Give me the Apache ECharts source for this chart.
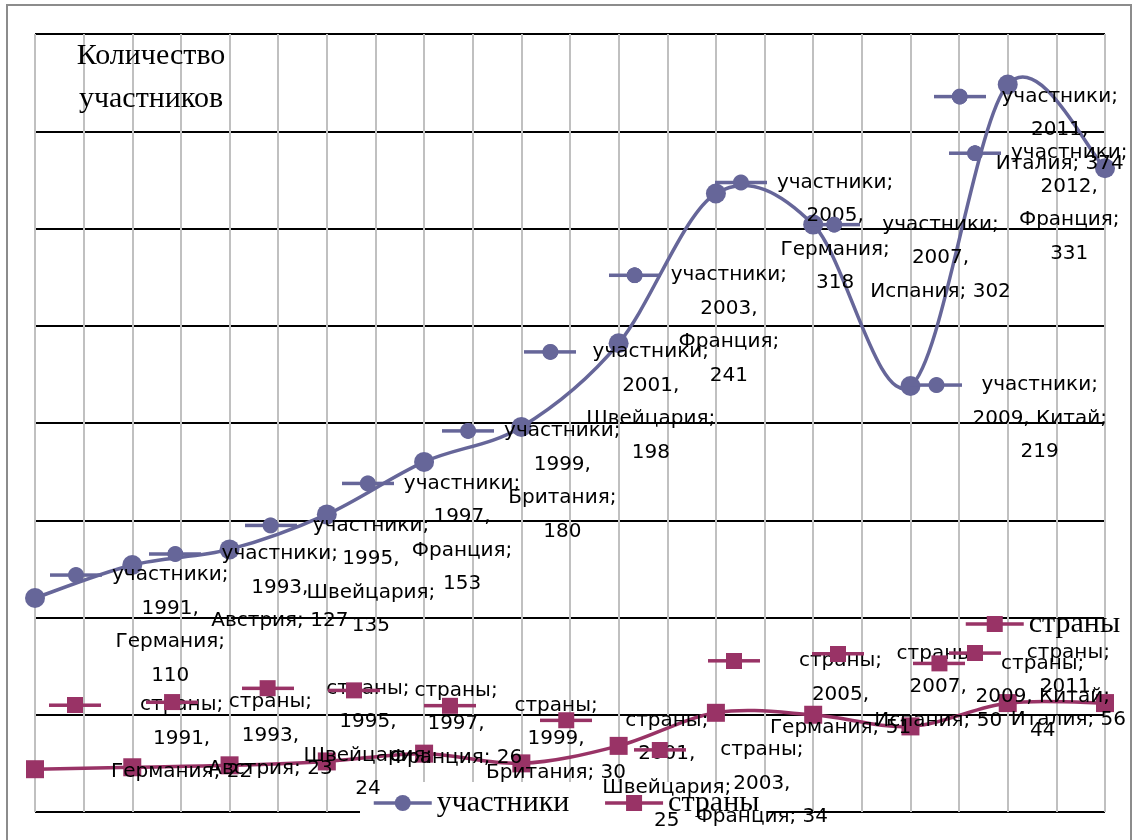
<!DOCTYPE html>
<html><head><meta charset="utf-8">
<script src="https://cdn.jsdelivr.net/npm/echarts@6/dist/echarts.min.js"></script>
<style>html,body{margin:0;padding:0;background:#fff}#c{width:1134px;height:840px}</style>
</head><body><div id="c"></div>
<script>
// ---- data ----
const years = ['1991','1993','1995','1997','1999','2001','2003','2005','2007','2009','2011','2012'];
const countries = ['Германия','Австрия','Швейцария','Франция','Британия','Швейцария','Франция','Германия','Испания','Китай','Италия','Франция'];
const participants = [110,127,135,153,180,198,241,318,302,219,374,331];
const nations = [22,23,24,26,30,25,34,51,50,44,56,56];
const seriesNames = ['участники','страны'];
const titleLines = ['Количество','участников'];
const yMin = 0, yMax = 400, yStep = 50;

// ---- label layout (offset of the label's legend key from its point, and line wrapping) ----
const keyOffA = [[41,-23],[43,-11],[41,-24],[41,-31],[44,-31],[29,-75],[16,-68],[25,-11],[21,0],[26,-1],[-48,12],[-130,-15]];
const wrapA = [['\n','\n'],['\n',' '],['\n','\n'],['\n','\n'],['\n','\n'],['\n','\n'],['\n','\n'],['\n','\n'],['\n',' '],[' ','\n'],['\n',' '],['\n','\n']];
const keyOffB = [[40,-64],[40,-65],[38,-77],[27,-71],[26,-48],[45,-43],[41,4],[18,-52],[25,-61],[29,-63],[-33,-50],null];
const wrapB = [['\n',' '],['\n',' '],['\n','\n'],['\n',' '],['\n',' '],['\n','\n'],['\n',' '],['\n',' '],['\n',' '],[' ','\n'],['\n',' '],null];

const COLORS = ['#666699', '#993366'];
const LFONT = 'DejaVu Sans', LSIZE = 20, LH = 33.5, KEYW = 52, GK = 10;
const SERIF = 'Liberation Serif';
const LINEW = 3.5;

const categories = years.map((y, i) => y + ', ' + countries[i]);

const mc = document.createElement('canvas').getContext('2d');
mc.font = LSIZE + 'px "' + LFONT + '"';
const measure = t => mc.measureText(t).width;

function keyImage(idx) {
  const cv = document.createElement('canvas');
  cv.width = KEYW * 2; cv.height = 40;
  const c = cv.getContext('2d');
  c.scale(2, 2);
  c.strokeStyle = COLORS[idx]; c.fillStyle = COLORS[idx]; c.lineWidth = LINEW;
  c.beginPath(); c.moveTo(0, 10); c.lineTo(KEYW, 10); c.stroke();
  if (idx === 0) { c.beginPath(); c.arc(KEYW / 2, 10, 8, 0, Math.PI * 2); c.fill(); }
  else { c.fillRect(KEYW / 2 - 8, 2, 16, 16); }
  return cv;
}
const keyImgs = [keyImage(0), keyImage(1)];

function makeLabel(s, i, values, offs, wraps) {
  const off = offs[i];
  if (!off) return { show: false };
  const wrap = wraps[i];
  const first = seriesNames[s] + ';';
  const rest = years[i] + ',' + wrap[0] + countries[i] + ';' + wrap[1] + values[i];
  const lines = [first].concat(rest.split('\n'));
  const TB = Math.max.apply(null, lines.map(measure));
  const wt = measure(first);
  const g = (TB - wt) / 2 + GK;
  const sp = g + KEYW;
  const C = off[0] + KEYW / 2 + GK + TB / 2;
  return {
    show: true, position: 'inside', align: 'center', verticalAlign: 'top',
    offset: [C, off[1] - LH / 2],
    fontFamily: LFONT, fontSize: LSIZE, lineHeight: LH, color: '#000',
    formatter: '{k|}{g|}' + first + '{s|}\n' + rest,
    rich: {
      k: { width: KEYW, height: 20, lineHeight: LH, backgroundColor: { image: keyImgs[s] } },
      g: { width: g, lineHeight: LH },
      s: { width: sp, lineHeight: LH }
    }
  };
}

// Excel-style smoothed curve (Catmull-Rom through the data points, via the chart's own scale)
function curveSeries(values, color) {
  return {
    type: 'custom', coordinateSystem: 'cartesian2d', silent: true, z: 2,
    data: [[0, values[0]]],
    renderItem: function (params, api) {
      const p = values.map((v, i) => api.coord([i, v]));
      const n = p.length, kids = [];
      for (let i = 0; i < n - 1; i++) {
        const a = p[i - 1] || p[i], b = p[i], c = p[i + 1], d = p[i + 2] || p[i + 1];
        kids.push({
          type: 'bezierCurve',
          shape: { x1: b[0], y1: b[1], x2: c[0], y2: c[1],
            cpx1: b[0] + (c[0] - a[0]) / 6, cpy1: b[1] + (c[1] - a[1]) / 6,
            cpx2: c[0] - (d[0] - b[0]) / 6, cpy2: c[1] - (d[1] - b[1]) / 6 },
          style: { fill: 'none', stroke: color, lineWidth: LINEW, lineCap: 'round' }
        });
      }
      return { type: 'group', children: kids };
    }
  };
}

const legendText = { fontFamily: SERIF, fontSize: 30, color: '#000' };
const legendLine = { width: LINEW, opacity: 1 };

const chart = echarts.init(document.getElementById('c'), null, { renderer: 'canvas' });
chart.setOption({
  animation: false,
  backgroundColor: '#fff',
  grid: { left: 35, right: 29, top: 34, bottom: 28, containLabel: false },
  xAxis: [
    { type: 'category', data: categories, boundaryGap: false,
      axisLine: { show: false }, axisTick: { show: false }, axisLabel: { show: false }, splitLine: { show: false } },
    { type: 'value', min: 0, max: (categories.length - 1) * 2, interval: 1,
      axisLine: { show: false }, axisTick: { show: false }, axisLabel: { show: false },
      splitLine: { show: true, lineStyle: { color: '#c0c0c0', width: 2 } } }
  ],
  yAxis: { type: 'value', min: yMin, max: yMax, interval: yStep,
    axisLine: { show: false }, axisTick: { show: false }, axisLabel: { show: false },
    splitLine: { show: true, lineStyle: { color: '#000', width: 2 } } },
  legend: [
    { data: seriesNames, left: 360, top: 782, itemWidth: 58, itemHeight: 20, itemGap: 34,
      textStyle: legendText, lineStyle: legendLine,
      backgroundColor: '#fff', padding: [6, 8, 20, 12], z: 1 },
    { data: [seriesNames[1]], left: 962, top: 607, itemWidth: 58, itemHeight: 20,
      textStyle: legendText, lineStyle: legendLine, padding: [2, 2], z: 1 }
  ],
  graphic: [
    { type: 'text', x: 151, y: 35, z: 50,
      style: { text: titleLines.join('\n'), font: '30px "' + SERIF + '"', fill: '#000',
        align: 'center', verticalAlign: 'top', lineHeight: 43 } },
    { type: 'rect', shape: { x: 7, y: 5, width: 1124, height: 850 }, silent: true, z: 100,
      style: { fill: 'none', stroke: '#8c8c8c', lineWidth: 2 } }
  ],
  series: [
    curveSeries(participants, COLORS[0]),
    curveSeries(nations, COLORS[1]),
    { name: seriesNames[0], type: 'line', symbol: 'circle', symbolSize: 20,
      itemStyle: { color: COLORS[0] }, lineStyle: { color: COLORS[0], width: LINEW, opacity: 0 }, z: 3,
      data: participants.map((v, i) => ({ value: v, label: makeLabel(0, i, participants, keyOffA, wrapA) })) },
    { name: seriesNames[1], type: 'line', symbol: 'rect', symbolSize: 18,
      itemStyle: { color: COLORS[1] }, lineStyle: { color: COLORS[1], width: LINEW, opacity: 0 }, z: 3,
      data: nations.map((v, i) => ({ value: v, label: makeLabel(1, i, nations, keyOffB, wrapB) })) }
  ]
});
</script></body></html>
